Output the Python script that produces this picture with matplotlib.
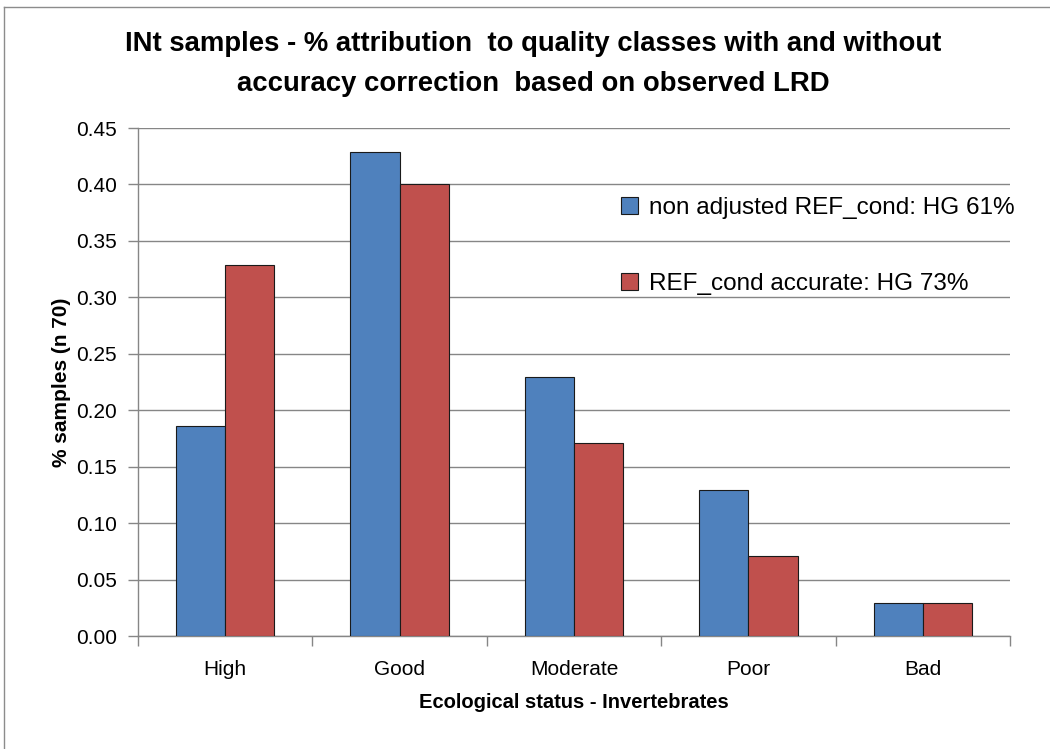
import numpy as np
import matplotlib
matplotlib.use("Agg")
from matplotlib import pyplot as plt
from matplotlib.lines import Line2D
from matplotlib.patches import Patch

categories = ["High", "Good", "Moderate", "Poor", "Bad"]
non_adjusted = [0.186, 0.429, 0.229, 0.129, 0.029]
accurate = [0.329, 0.400, 0.171, 0.071, 0.029]
series_names = ["non adjusted REF_cond: HG 61%", "REF_cond accurate: HG 73%"]
yticks = [0.00, 0.05, 0.10, 0.15, 0.20, 0.25, 0.30, 0.35, 0.40, 0.45]

blue = "#4F81BD"
red = "#C0504D"
grid_gray = "#868686"

plt.rcParams["font.family"] = ["Liberation Sans", "DejaVu Sans"]

fig = plt.figure(figsize=(10.5, 7.49), dpi=100)
ax = fig.add_axes([138 / 1050, 1 - 636 / 749, 872 / 1050, 508 / 749])

x = np.arange(len(categories))
w = 0.282
ax.bar(x - w / 2, non_adjusted, w, color=blue, edgecolor="#1a1a1a", linewidth=0.8, zorder=3)
ax.bar(x + w / 2, accurate, w, color=red, edgecolor="#1a1a1a", linewidth=0.8, zorder=3)

ax.set_xlim(-0.5, len(categories) - 0.5)
ax.set_ylim(0, 0.45)
ax.set_yticks(yticks)
ax.set_yticklabels([f"{v:.2f}" for v in yticks], fontsize=15)
ax.yaxis.grid(True, color=grid_gray, linewidth=1, zorder=0)

# category labels centred, ticks on the boundaries
ax.set_xticks(x)
ax.set_xticklabels(categories, fontsize=15)
ax.tick_params(axis="x", length=0, pad=17)
ax.set_xticks(np.arange(len(categories) + 1) - 0.5, minor=True)
ax.tick_params(axis="x", which="minor", length=7, color=grid_gray, width=1)
ax.tick_params(axis="y", length=7, color=grid_gray, width=1, pad=8)

for s in ["top", "right"]:
    ax.spines[s].set_visible(False)
for s in ["left", "bottom"]:
    ax.spines[s].set_color(grid_gray)
    ax.spines[s].set_linewidth(1)

ax.set_ylabel("% samples (n 70)", fontsize=15, fontweight="bold", labelpad=4)
ax.set_xlabel("Ecological status - Invertebrates", fontsize=14.5, fontweight="bold", labelpad=10)

fig.text(0.508, 1 - 64 / 749,
         "INt samples - % attribution  to quality classes with and without\naccuracy correction  based on observed LRD",
         ha="center", va="center", fontsize=19.8, fontweight="bold", linespacing=1.7)

handles = [Patch(facecolor=blue, edgecolor="#1a1a1a", linewidth=0.8),
           Patch(facecolor=red, edgecolor="#1a1a1a", linewidth=0.8)]
ax.legend(handles, series_names, loc="upper left", bbox_to_anchor=(0.529, 0.907),
          frameon=False, fontsize=17.5, labelspacing=2.2, handlelength=0.7,
          handleheight=0.7, handletextpad=0.45)

# outer chart border
fig.add_artist(Line2D([4 / 1050, 4 / 1050], [0, 1 - 7 / 749], transform=fig.transFigure,
                      color="#8c8c8c", linewidth=1))
fig.add_artist(Line2D([4 / 1050, 1], [1 - 7 / 749, 1 - 7 / 749], transform=fig.transFigure,
                      color="#8c8c8c", linewidth=1))

fig.savefig("out.png", dpi=100)
